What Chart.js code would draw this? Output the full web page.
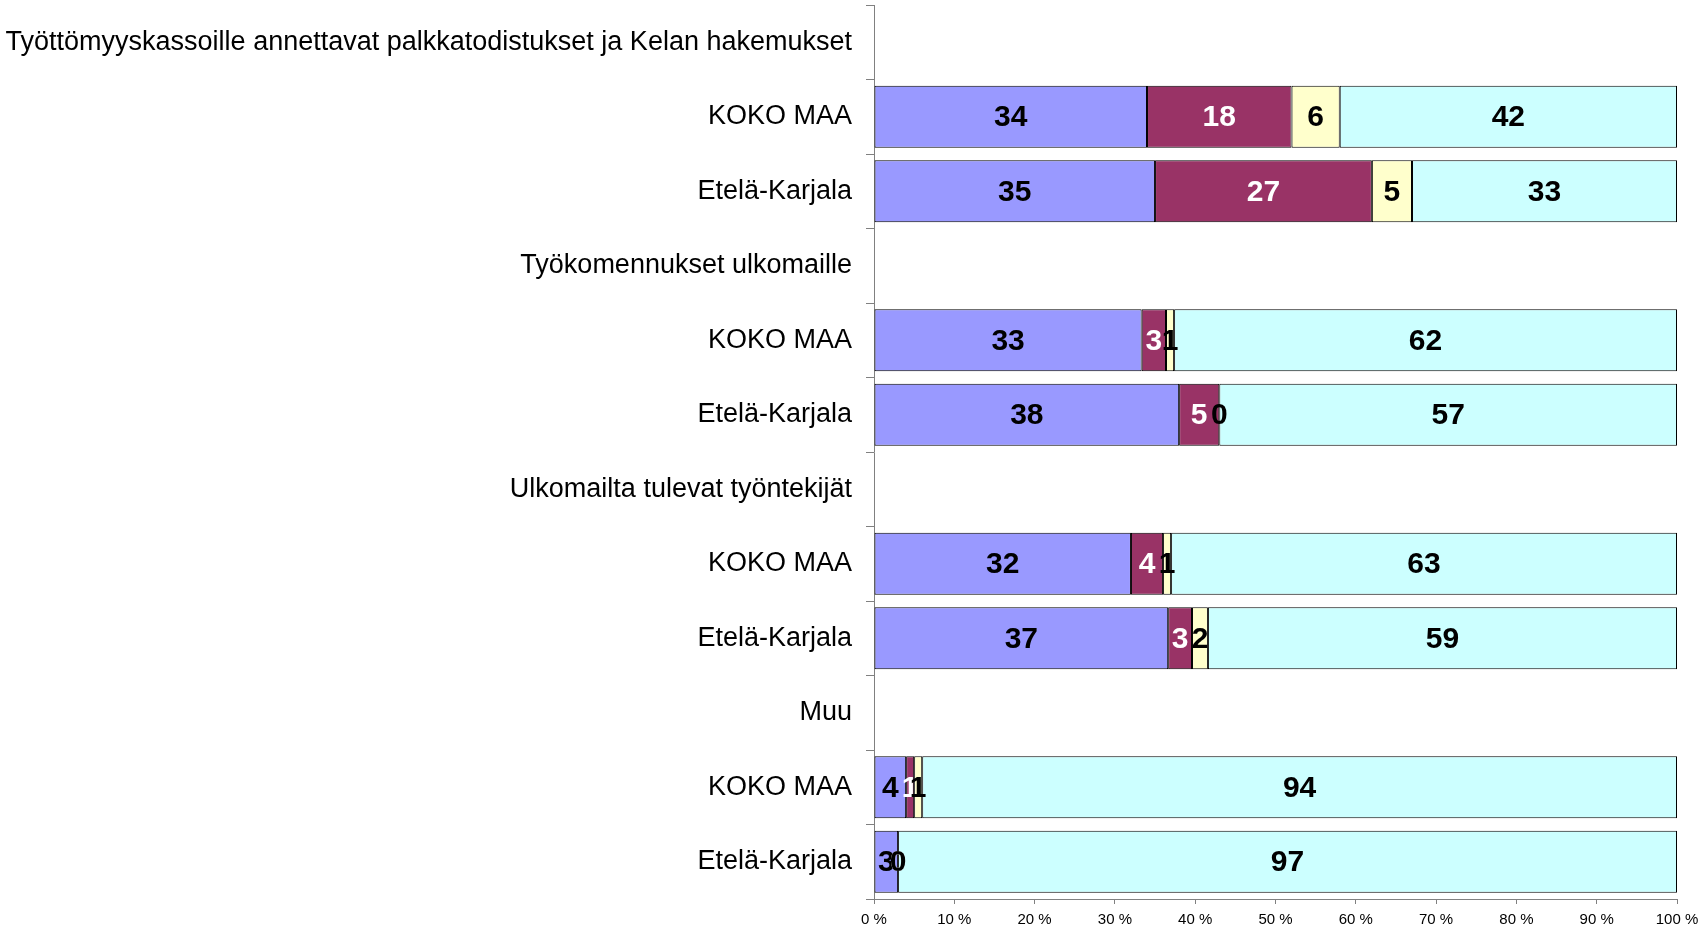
<!DOCTYPE html>
<html>
<head>
<meta charset="utf-8">
<script src="https://cdn.jsdelivr.net/npm/chart.js@4/dist/chart.umd.min.js"></script>
<style>
html,body{margin:0;padding:0;background:#fff;}
#wrap{width:1706px;height:930px;position:relative;}
</style>
</head>
<body>
<div id="wrap"><canvas id="c" width="1706" height="930"></canvas></div>
<script>
const categories = [
  "Työttömyyskassoille annettavat palkkatodistukset ja Kelan hakemukset",
  "KOKO MAA",
  "Etelä-Karjala",
  "Työkomennukset ulkomaille",
  "KOKO MAA",
  "Etelä-Karjala",
  "Ulkomailta tulevat työntekijät",
  "KOKO MAA",
  "Etelä-Karjala",
  "Muu",
  "KOKO MAA",
  "Etelä-Karjala"
];
const series1 = [null,34,35,null,33,38,null,32,37,null,4,3];
const series2 = [null,18,27,null,3,5,null,4,3,null,1,0];
const series3 = [null,6,5,null,1,0,null,1,2,null,1,0];
const series4 = [null,42,33,null,62,57,null,63,59,null,94,97];
const xTickLabels = ["0 %","10 %","20 %","30 %","40 %","50 %","60 %","70 %","80 %","90 %","100 %"];

const allSeries = [series1, series2, series3, series4];
const colors = ["#9999FF","#993366","#FFFFCC","#CCFFFF"];
const labelColors = ["#000","#fff","#000","#000"];

const rowSums = categories.map((_, i) => allSeries.reduce((s, a) => s + (a[i] || 0), 0));
const datasets = allSeries.map((arr, k) => ({
  label: "s" + (k + 1),
  data: arr.map((v, i) => v === null ? null : v / rowSums[i] * 100),
  raw: arr,
  backgroundColor: colors[k],
  borderColor: "#000",
  borderWidth: 1,
  borderSkipped: false,
  categoryPercentage: 1,
  barPercentage: 0.83
}));

const valueLabels = {
  id: "valueLabels",
  afterDatasetsDraw(chart) {
    const ctx = chart.ctx;
    ctx.save();
    ctx.font = "bold 30px 'Liberation Sans', Arial, sans-serif";
    ctx.textAlign = "center";
    ctx.textBaseline = "middle";
    chart.data.datasets.forEach((ds, k) => {
      const meta = chart.getDatasetMeta(k);
      meta.data.forEach((el, i) => {
        const v = ds.raw[i];
        if (v === null || v === undefined) return;
        const p = el.getCenterPoint();
        ctx.fillStyle = labelColors[k];
        ctx.fillText(String(v), p.x, p.y + 1);
      });
    });
    ctx.restore();
  }
};

new Chart(document.getElementById("c"), {
  type: "bar",
  data: { labels: categories, datasets },
  options: {
    indexAxis: "y",
    responsive: false,
    animation: false,
    layout: { padding: { top: 5, right: 29, left: 0, bottom: 0 } },
    plugins: { legend: { display: false }, tooltip: { enabled: false } },
    scales: {
      x: {
        stacked: true,
        min: 0, max: 100,
        afterFit(scale) { scale.height = 31; },
        afterBuildTicks(scale) {
          scale.ticks = xTickLabels.map((_, i) => ({ value: i * 10 }));
        },
        ticks: {
          autoSkip: false,
          maxRotation: 0,
          padding: 7,
          color: "#000",
          font: { family: "'Liberation Sans', Arial, sans-serif", size: 15 },
          callback: (v, i) => xTickLabels[i]
        },
        grid: { drawOnChartArea: false, drawTicks: true, tickLength: 5, color: "#808080" },
        border: { display: true, color: "#808080", width: 1 }
      },
      y: {
        stacked: true,
        afterFit(scale) { scale.width = 874; scale.paddingTop = 0; scale.paddingBottom = 0; },
        ticks: {
          autoSkip: false,
          padding: 14,
          color: "#000",
          font: { family: "'Liberation Sans', Arial, sans-serif", size: 27 }
        },
        grid: { drawOnChartArea: false, drawTicks: true, tickLength: 8, offset: true, color: "#808080" },
        border: { display: true, color: "#808080", width: 1 }
      }
    }
  },
  plugins: [valueLabels]
});
</script>
</body>
</html>
